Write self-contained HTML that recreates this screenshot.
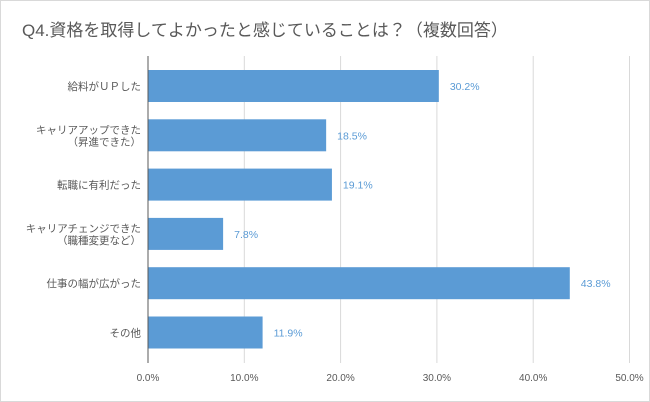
<!DOCTYPE html>
<html><head><meta charset="utf-8"><style>
body{margin:0;background:#fff;}
svg{display:block;font-family:"Liberation Sans","Noto Sans CJK JP",sans-serif;}
</style></head><body>
<svg id="c" width="650" height="402">
<rect x="0.5" y="0.5" width="649" height="401" fill="#fff" stroke="#d9d9d9"/>
<text x="22" y="36" font-size="17" fill="#595959">Q4.資格を取得してよかったと感じていることは？（複数回答）</text>
<g id="grid"></g><g id="bars"></g><g id="labels"></g>
</svg>
<script>
const categories=[["給料がＵＰした"],["キャリアアップできた","（昇進できた）"],["転職に有利だった"],["キャリアチェンジできた","（職種変更など）"],["仕事の幅が広がった"],["その他"]];
const values=[30.2,18.5,19.1,7.8,43.8,11.9];
const ticks=[0,10,20,30,40,50];
const NS="http://www.w3.org/2000/svg";
const x0=148,pxPer=9.63,yTop=56,yBot=363,step=49.3,firstC=86,bh=32;
const xs=v=>x0+v*pxPer;
const yc=i=>firstC+i*step;
function mk(t,a,p){const e=document.createElementNS(NS,t);for(const k in a)e.setAttribute(k,a[k]);document.getElementById(p).appendChild(e);return e;}
ticks.forEach(t=>{
 if(t>0){const l=mk('line',{x1:xs(t),x2:xs(t),y1:yTop,y2:yBot,stroke:'#d9d9d9','stroke-width':1},'grid');
 
 }
 const tx=mk('text',{x:xs(t),y:381,'font-size':10,fill:'#595959','text-anchor':'middle'},'labels');
 tx.textContent=t.toFixed(1)+'%';
 
 
});
values.forEach((v,i)=>{
 const r=mk('rect',{x:xs(0),y:yc(i)-bh/2,width:xs(v)-xs(0),height:bh,fill:'#5b9bd5'},'bars');
 
 
 const t=mk('text',{x:xs(v)+11,y:yc(i)+4,'font-size':10.5,fill:'#5b9bd5'},'labels');
 t.textContent=v.toFixed(1)+'%';
 
 
 const lines=categories[i];
 lines.forEach((s,j)=>{
  const c=mk('text',{x:141,y:yc(i)+4+(j-(lines.length-1)/2)*12,'font-size':10.5,fill:'#595959','text-anchor':'end'},'labels');
  c.textContent=s;
  
  
 });
});
const ax=mk('line',{x1:x0,x2:x0,y1:yTop,y2:yBot,stroke:'#595959','stroke-width':1},'labels');


</script>
</body></html>
